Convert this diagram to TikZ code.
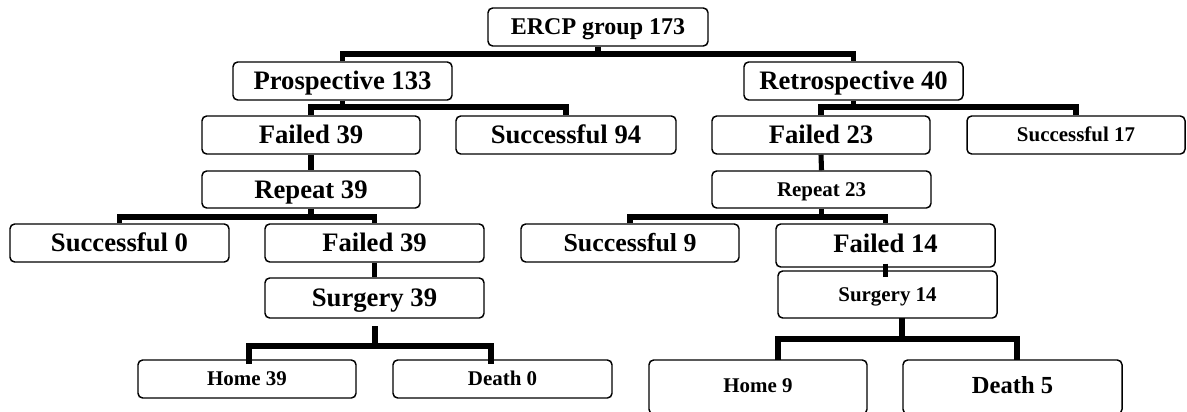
\documentclass[tikz,border=0pt]{standalone}
\usepackage{fontspec}
\setmainfont{Liberation Serif}
\begin{document}
\begin{tikzpicture}[x=0.75pt,y=-0.75pt]
\tikzset{
  bx/.style 2 args={draw, line width=1.1pt, rounded corners=3.5pt, fill=white,
    inner sep=0pt, minimum width=#1*0.75pt, minimum height=#2*0.75pt,
    text depth=0pt, text height=13.2pt, font=\bfseries\fontsize{20}{24}\selectfont},
  smallf/.style={font=\bfseries\fontsize{15.7}{18}\selectfont, text height=10.4pt},
  ercpf/.style={font=\bfseries\fontsize{18}{22}\selectfont, text height=11.9pt},
  midf/.style={font=\bfseries\fontsize{19.4}{23}\selectfont, text height=12.8pt},
  deathf/.style={font=\bfseries\fontsize{18.4}{22}\selectfont, text height=12.1pt},
  conn/.style={line width=3.8pt, line join=miter, line cap=butt},
}
\useasboundingbox (0,0) rectangle (1187,411);
% boxes
\node[bx={220}{38}, ercpf] (ercp) at (598,27) {ERCP group 173};
\node[bx={219}{38}] (pros) at (342.5,81) {Prospective 133};
\node[bx={219}{38}] (retro) at (853.5,81) {Retrospective 40};
\node[bx={218}{38}] (f39) at (311,135) {Failed 39};
\node[bx={220}{38}] (s94) at (566,135) {Successful 94};
\node[bx={218}{38}] (f23) at (821,135) {Failed 23};
\node[bx={218}{38}, smallf] (s17) at (1076,135) {Successful 17};
\node[bx={218}{37}] (r39) at (311,189.5) {Repeat 39};
\node[bx={219}{37}, smallf] (r23) at (821.5,189.5) {Repeat 23};
\node[bx={219}{38}] (s0) at (119.5,243) {Successful 0};
\node[bx={219}{38}] (f39b) at (374.5,243) {Failed 39};
\node[bx={218}{38}, midf] (s9) at (630,243) {Successful 9};
\node[bx={219}{43}, text height=11pt] (f14) at (885.5,245.5) {Failed 14};
\node[bx={219}{40}, text height=12pt] (sg39) at (374.5,298) {Surgery 39};
\node[bx={219}{47}, smallf] (sg14) at (887.5,294.5) {Surgery 14};
\node[bx={218}{38}, smallf] (h39) at (247,379) {Home 39};
\node[bx={219}{38}, smallf] (d0) at (502.5,379) {Death 0};
\node[bx={218}{54}, smallf, text height=7.5pt] (h9) at (758,387) {Home 9};
\node[bx={219}{54}, deathf, text height=9pt] (d5) at (1012.5,387) {Death 5};
% bar levels
\coordinate (b1) at (0,54);
\coordinate (b2) at (0,107);
\coordinate (b3) at (0,217);
\coordinate (b5) at (0,346);
\coordinate (b6) at (0,339);
\coordinate (sg39j) at (375,326);
\coordinate (h39j) at (249,364);
\coordinate (d0j) at (491,364);
\coordinate (sg14j) at (902,318);
\coordinate (h9j) at (778,360);
\coordinate (d5j) at (1017,360);
% connectors
\draw[conn] (ercp.south) -- (ercp.south |- b1);
\draw[conn] (pros.north) -- (pros.north |- b1) -- (retro.north |- b1) -- (retro.north);
\draw[conn] (pros.south) -- (pros.south |- b2);
\draw[conn] (f39.north) -- (f39.north |- b2) -- (s94.north |- b2) -- (s94.north);
\draw[conn] (retro.south) -- (retro.south |- b2);
\draw[conn] (f23.north) -- (f23.north |- b2) -- (s17.north |- b2) -- (s17.north);
\draw[conn] (f39.south) -- (r39.north);
\draw[conn] (f23.south) -- (r23.north);
\draw[conn] (r39.south) -- (r39.south |- b3);
\draw[conn] (s0.north) -- (s0.north |- b3) -- (f39b.north |- b3) -- (f39b.north);
\draw[conn] (r23.south) -- (r23.south |- b3);
\draw[conn] (s9.north) -- (s9.north |- b3) -- (f14.north |- b3) -- (f14.north);
\draw[conn] (f39b.south) -- (sg39.north);
\draw[conn] ([yshift=3pt]f14.south) -- ([yshift=-5.25pt]f14.south |- sg14.north);
\draw[conn] (sg39j) -- (sg39j |- b5);
\draw[conn] (h39j) -- (h39j |- b5) -- (d0j |- b5) -- (d0j);
\draw[conn] (sg14j) -- (sg14j |- b6);
\draw[conn] (h9j) -- (h9j |- b6) -- (d5j |- b6) -- (d5j);
\end{tikzpicture}
\end{document}
